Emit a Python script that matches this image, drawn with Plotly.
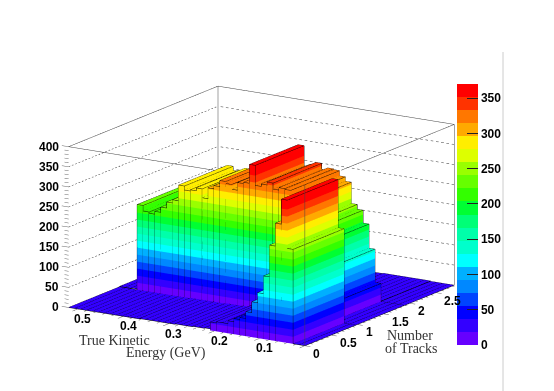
import plotly.graph_objects as go
import numpy as np

# bin edges of the lego plot
track_edges = [0, 0.97, 1.9, 2.85]
energy_edges = list(np.linspace(0, 0.52, 41))

# bin contents, one list per track bin, low to high energy
counts_bin0 = [0, 0, 235, 355, 293, 236, 157, 113, 88, 61, 44, 39, 31, 24, 24, 21, 4, 3, 3, 2,
               2, 2, 1, 1, 1, 1, 1, 1, 0, 0, 0, 0, 0, 0, 0, 0, 0, 0, 0, 0]
counts_bin1 = [0, 0, 0, 0, 45, 128, 188, 220, 232, 285, 296, 309, 311, 305, 320, 313, 307, 357, 310, 307,
               288, 300, 305, 290, 282, 255, 277, 270, 267, 277, 238, 230, 215, 202, 195, 198, 212, 2, 1, 1]
counts_bin2 = [0, 0, 0, 0, 1, 1, 1, 1, 1, 1, 1, 1, 0, 0, 0, 0, 0, 0, 0, 0,
               0, 0, 0, 0, 0, 0, 0, 0, 0, 0, 0, 0, 0, 0, 0, 0, 0, 0, 0, 0]

palette = ["#6600ff", "#3300ff", "#0000ff", "#0044ff", "#0088ff", "#00b0ff", "#00ffff", "#00ffcc", "#00ffaa", "#00ff77",
           "#00ff33", "#33ff00", "#66ff00", "#99ff00", "#ddff00", "#ffee00", "#ffaa00", "#ff7700", "#ff3300", "#ff0000"]
zmax_color = 370.0
# slices on the bars run a bit tighter than the colour bar in the original
face_stretch = 1.06
band = zmax_color / face_stretch / len(palette)

z_ticks = [0, 50, 100, 150, 200, 250, 300, 350, 400]
energy_ticks = [0.1, 0.2, 0.3, 0.4, 0.5]
track_ticks = [0, 0.5, 1, 1.5, 2, 2.5]

LABEL_FONT = dict(family="Liberation Sans", size=12, color="black", weight="bold")
TITLE_FONT = dict(family="Liberation Serif", size=14, color="#333333")

xs, ys, zs, tri_i, tri_j, tri_k, cell = [], [], [], [], [], [], []
lx, ly, lz = [], [], []


def add_quad(p0, p1, p2, p3, value):
    n = len(xs)
    for p in (p0, p1, p2, p3):
        xs.append(p[0])
        ys.append(p[1])
        zs.append(p[2])
    tri_i.extend([n, n])
    tri_j.extend([n + 1, n + 2])
    tri_k.extend([n + 2, n + 3])
    cell.extend([value, value])


def add_line(*pts):
    for p in pts:
        lx.append(p[0])
        ly.append(p[1])
        lz.append(p[2])
    lx.append(None)
    ly.append(None)
    lz.append(None)


counts = [counts_bin0, counts_bin1, counts_bin2]
for j in range(3):
    x0, x1 = track_edges[j], track_edges[j + 1]
    for i in range(40):
        y0, y1 = energy_edges[i], energy_edges[i + 1]
        h = counts[j][i]
        # top face, floor is painted one band up like in the original
        top_value = min((h - 0.01) * face_stretch, zmax_color - 1)
        add_quad((x0, y0, h), (x1, y0, h), (x1, y1, h), (x0, y1, h), max(top_value, 1.5 * zmax_color / len(palette)))
        add_line((x0, y0, h), (x1, y0, h), (x1, y1, h), (x0, y1, h), (x0, y0, h))
        if h > 5:
            # coloured slices on the two sides the viewer can see
            low = 0.0
            while low < h:
                high = min(low + band, h)
                mid = min((low + high) / 2 * face_stretch, zmax_color - 1)
                add_quad((x0, y0, low), (x1, y0, low), (x1, y0, high), (x0, y0, high), mid)
                add_quad((x0, y0, low), (x0, y1, low), (x0, y1, high), (x0, y0, high), mid)
                low = high
            add_line((x0, y0, 0), (x0, y0, h))
            add_line((x0, y1, 0), (x0, y1, h))
            add_line((x1, y0, 0), (x1, y0, h))

colorscale = []
for n, c in enumerate(palette):
    colorscale.append([n / len(palette), c])
    colorscale.append([(n + 1) / len(palette), c])

fig = go.Figure()
fig.add_trace(go.Mesh3d(
    x=xs, y=ys, z=zs, i=tri_i, j=tri_j, k=tri_k,
    intensity=cell, intensitymode="cell",
    colorscale=colorscale, cmin=0, cmax=zmax_color,
    flatshading=True,
    lighting=dict(ambient=1, diffuse=0, specular=0, roughness=1, fresnel=0),
    hoverinfo="skip",
    colorbar=dict(
        x=457 / 554, xanchor="left", xpad=0,
        y=(391 - 345) / 391, yanchor="bottom", ypad=0,
        len=261, lenmode="pixels", thickness=21, thicknessmode="pixels",
        outlinewidth=0, tick0=0, dtick=50, ticks="inside", ticklen=11,
        tickcolor="#222222", tickwidth=1, tickfont=LABEL_FONT,
    ),
))

# bin outlines
fig.add_trace(go.Scatter3d(x=lx, y=ly, z=lz, mode="lines", line=dict(color="black", width=1),
                           hoverinfo="skip", showlegend=False))

xm, ym, zm = track_edges[-1], energy_edges[-1], z_ticks[-1]

# dotted grid on the back walls, chopped up by hand since the gl dash is too long
gx, gy, gz = [], [], []
n_dots = 45
for v in z_ticks[1:-1]:
    for d in range(n_dots):
        a, b = d / n_dots, (d + 0.5) / n_dots
        gx += [a * xm, b * xm, None, xm, xm, None]
        gy += [ym, ym, None, a * ym, b * ym, None]
        gz += [v, v, None, v, v, None]
fig.add_trace(go.Scatter3d(x=gx, y=gy, z=gz, mode="lines", line=dict(color="#333333", width=1),
                           hoverinfo="skip", showlegend=False))

# box, front top edges stop where the bars hide them
bx = [0, xm, xm, None, xm, xm, None, xm, xm, None, 0, 0, None, 0, 0, None, xm, 0.243 * xm]
by = [ym, ym, 0, None, ym, ym, None, 0, 0, None, 0, 0, None, ym, 0.38 * ym, None, 0, 0]
bz = [zm, zm, zm, None, 0, zm, None, 0, zm, None, 0, zm, None, zm, zm, None, zm, zm]
fig.add_trace(go.Scatter3d(x=bx, y=by, z=bz, mode="lines", line=dict(color="#444444", width=1),
                           hoverinfo="skip", showlegend=False))

# tick marks
tx, ty, tz = [], [], []
for v in range(0, 401, 10):
    tx += [0, 0, None]
    ty += [ym, ym + (0.015 if v % 50 == 0 else 0.009), None]
    tz += [v, v, None]
for k in range(0, 26):
    v = k * 0.02
    tx += [0, -0.1 if k % 5 == 0 else -0.05, None]
    ty += [v, v, None]
    tz += [0, 0, None]
for k in range(0, 29):
    v = k * 0.1
    tx += [v, v, None]
    ty += [0, -0.012 if k % 5 == 0 else -0.006, None]
    tz += [0, 0, None]
fig.add_trace(go.Scatter3d(x=tx, y=ty, z=tz, mode="lines", line=dict(color="#666666", width=1),
                           hoverinfo="skip", showlegend=False))

notes = []
for v in z_ticks:
    notes.append(dict(x=0, y=ym, z=v, text=str(v), showarrow=False, font=LABEL_FONT,
                      xanchor="right", xshift=-8, yshift=0))
for v in energy_ticks:
    notes.append(dict(x=0, y=v, z=0, text=str(v), showarrow=False, font=LABEL_FONT,
                      xanchor="center", xshift=5, yshift=-10))
for v in track_ticks:
    notes.append(dict(x=v, y=0, z=0, text=str(v), showarrow=False, font=LABEL_FONT,
                      xanchor="left", xshift=6.5, yshift=-8))

rx = [-0.2, 2.9]
ry = [-0.02, 0.54]
rz = [-5, 405]
scale = 1.43
center = dict(x=0.055, y=-0.083, z=0.116)
view_dir = (-0.818, -0.517, 0.2565)
fig.update_layout(
    width=554, height=391,
    margin=dict(l=0, r=0, t=0, b=0),
    paper_bgcolor="white",
    showlegend=False,
    scene=dict(
        domain=dict(x=[0, 1], y=[0, 1]),
        xaxis=dict(visible=False, range=rx),
        yaxis=dict(visible=False, range=ry),
        zaxis=dict(visible=False, range=rz),
        aspectmode="manual",
        aspectratio=dict(x=scale * (rx[1] - rx[0]) / xm, y=scale * (ry[1] - ry[0]) / ym,
                         z=scale * 0.595 * (rz[1] - rz[0]) / zm),
        camera=dict(
            projection=dict(type="orthographic"),
            eye=dict(x=center["x"] + 2 * view_dir[0], y=center["y"] + 2 * view_dir[1], z=center["z"] + 2 * view_dir[2]),
            up=dict(x=0, y=0, z=1),
            center=center,
        ),
        annotations=notes,
    ),
    annotations=[
        dict(text="True Kinetic", x=77 / 554, y=1 - 340 / 391, xref="paper", yref="paper", xanchor="left",
             yanchor="middle", showarrow=False, font=TITLE_FONT),
        dict(text="Energy (GeV)", x=124 / 554, y=1 - 353 / 391, xref="paper", yref="paper", xanchor="left",
             yanchor="middle", showarrow=False, font=TITLE_FONT),
        dict(text="Number", x=410 / 554, y=1 - 335 / 391, xref="paper", yref="paper", xanchor="center",
             yanchor="middle", showarrow=False, font=TITLE_FONT),
        dict(text="of Tracks", x=411 / 554, y=1 - 348 / 391, xref="paper", yref="paper", xanchor="center",
             yanchor="middle", showarrow=False, font=TITLE_FONT),
    ],
    shapes=[dict(type="line", xref="paper", yref="paper", x0=503 / 554, x1=503 / 554, y0=0, y1=1 - 52 / 391,
                 line=dict(color="#cccccc", width=1))],
)

fig.write_html("out.html", config={"displayModeBar": False},
               post_script="document.body.style.margin='0';")
